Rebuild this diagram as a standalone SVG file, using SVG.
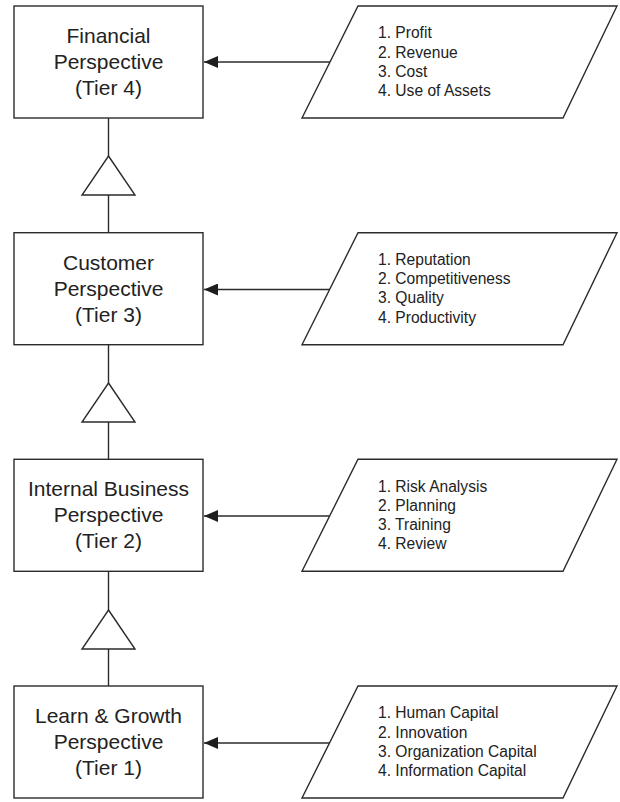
<svg xmlns="http://www.w3.org/2000/svg" width="620" height="802" viewBox="0 0 620 802">
<style>
.box{fill:#fff;stroke:#2b2b2b;stroke-width:1.4}
.tri{fill:#fff;stroke:#2b2b2b;stroke-width:1.4}
.ln{stroke:#2b2b2b;stroke-width:1.4;fill:none}
.t{font-family:"Liberation Sans",Arial,sans-serif;font-size:21px;fill:#222;text-anchor:middle}
.l{font-family:"Liberation Sans",Arial,sans-serif;font-size:15.6px;fill:#222}
</style>
<defs>
<marker id="ah" viewBox="0 0 14 12" refX="14" refY="6" markerWidth="14" markerHeight="12" markerUnits="userSpaceOnUse" orient="auto">
<path d="M0,0 L14,6 L0,12 Z" fill="#1e1e1e"/>
</marker>
</defs>
<rect width="620" height="802" fill="#fff"/>
<g id="connectors">
<line class="ln" x1="108.5" y1="118" x2="108.5" y2="232.7"/>
<line class="ln" x1="108.5" y1="344.7" x2="108.5" y2="459.3"/>
<line class="ln" x1="108.5" y1="571.3" x2="108.5" y2="686"/>
<polygon class="tri" points="108.5,156 135,195 82,195"/>
<polygon class="tri" points="108.5,383 135,422 82,422"/>
<polygon class="tri" points="108.5,610 135,649 82,649"/>
<line class="ln" x1="330" y1="62" x2="204" y2="62" marker-end="url(#ah)"/>
<line class="ln" x1="330" y1="289.5" x2="204" y2="289.5" marker-end="url(#ah)"/>
<line class="ln" x1="330" y1="516" x2="204" y2="516" marker-end="url(#ah)"/>
<line class="ln" x1="330" y1="743" x2="204" y2="743" marker-end="url(#ah)"/>
</g>
<g id="tier4">
<rect class="box" x="14" y="6" width="189" height="112"/>
<text class="t" x="108.5" y="43">Financial</text>
<text class="t" x="108.5" y="69">Perspective</text>
<text class="t" x="108.5" y="95">(Tier 4)</text>
</g>
<g id="tier3">
<rect class="box" x="14" y="232.7" width="189" height="112"/>
<text class="t" x="108.5" y="269.7">Customer</text>
<text class="t" x="108.5" y="295.7">Perspective</text>
<text class="t" x="108.5" y="321.7">(Tier 3)</text>
</g>
<g id="tier2">
<rect class="box" x="14" y="459.3" width="189" height="112"/>
<text class="t" x="108.5" y="496.3">Internal Business</text>
<text class="t" x="108.5" y="522.3">Perspective</text>
<text class="t" x="108.5" y="548.3">(Tier 2)</text>
</g>
<g id="tier1">
<rect class="box" x="14" y="686" width="189" height="112"/>
<text class="t" x="108.5" y="723">Learn &amp; Growth</text>
<text class="t" x="108.5" y="749">Perspective</text>
<text class="t" x="108.5" y="775">(Tier 1)</text>
</g>
<g id="list4">
<polygon class="box" points="358,6 617,6 563,118 302,118"/>
<text class="l" x="378" y="38.3">1. Profit</text>
<text class="l" x="378" y="57.5">2. Revenue</text>
<text class="l" x="378" y="76.7">3. Cost</text>
<text class="l" x="378" y="96">4. Use of Assets</text>
</g>
<g id="list3">
<polygon class="box" points="358,232.7 617,232.7 563,344.7 302,344.7"/>
<text class="l" x="378" y="265">1. Reputation</text>
<text class="l" x="378" y="284.2">2. Competitiveness</text>
<text class="l" x="378" y="303.4">3. Quality</text>
<text class="l" x="378" y="322.7">4. Productivity</text>
</g>
<g id="list2">
<polygon class="box" points="358,459.3 617,459.3 563,571.3 302,571.3"/>
<text class="l" x="378" y="491.6">1. Risk Analysis</text>
<text class="l" x="378" y="510.8">2. Planning</text>
<text class="l" x="378" y="530">3. Training</text>
<text class="l" x="378" y="549.3">4. Review</text>
</g>
<g id="list1">
<polygon class="box" points="358,686 617,686 563,798 302,798"/>
<text class="l" x="378" y="718.3">1. Human Capital</text>
<text class="l" x="378" y="737.5">2. Innovation</text>
<text class="l" x="378" y="756.7">3. Organization Capital</text>
<text class="l" x="378" y="776">4. Information Capital</text>
</g>
</svg>
